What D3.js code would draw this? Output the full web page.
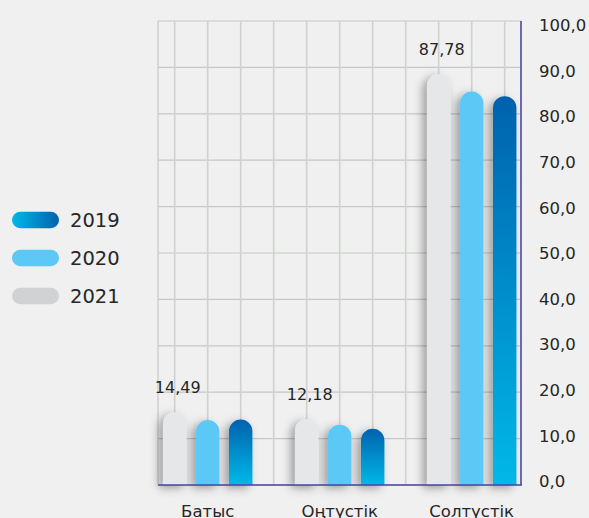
<!DOCTYPE html>
<html>
<head>
<meta charset="utf-8">
<script src="https://cdn.jsdelivr.net/npm/d3@7"></script>
<style>
  html, body { margin: 0; padding: 0; background: #eff0ef; }
  svg { display: block; }
</style>
</head>
<body>
<div class="chart"></div>
<script>
const categories = ['Батыс', 'Оңтүстік', 'Солтүстік'];
const years = ['2021', '2020', '2019'];
const values2021 = [15.7, 14.2, 88.5];
const values2020 = [14.0, 13.0, 84.8];
const values2019 = [14.1, 12.1, 83.8];
const labels2021 = ['14,49', '12,18', '87,78'];
const tickValues = [0, 10, 20, 30, 40, 50, 60, 70, 80, 90, 100];
const legendYears = ['2019', '2020', '2021'];

const width = 589, height = 518;
const plotLeft = 158, plotRight = 521, plotTop = 21, plotBottom = 485;
const grey = '#e6e7e9', light = '#5bc8f5', purple = '#4a46a6';

const series = { '2021': values2021, '2020': values2020, '2019': values2019 };

const svg = d3.select('.chart')
    .append('svg')
    .attr('width', width)
    .attr('height', height);

const defs = svg.append('defs');
const gradBar = defs.append('linearGradient')
    .attr('id', 'gradBar').attr('x1', 0).attr('y1', 0).attr('x2', 0).attr('y2', 1);
gradBar.append('stop').attr('offset', '0%').attr('stop-color', '#0061ad');
gradBar.append('stop').attr('offset', '100%').attr('stop-color', '#00b9e9');
const gradLeg = defs.append('linearGradient')
    .attr('id', 'gradLeg').attr('x1', 0).attr('y1', 0).attr('x2', 1).attr('y2', 0);
gradLeg.append('stop').attr('offset', '0%').attr('stop-color', '#00b9e9');
gradLeg.append('stop').attr('offset', '100%').attr('stop-color', '#0061ad');
const shadow = defs.append('filter').attr('id', 'shadow')
    .attr('x', '-80%').attr('y', '-30%').attr('width', '260%').attr('height', '160%');
shadow.append('feDropShadow')
    .attr('dx', -4).attr('dy', 3).attr('stdDeviation', 5)
    .attr('flood-color', '#000').attr('flood-opacity', 0.36);

const y = d3.scaleLinear().domain([0, 100]).range([plotBottom, plotTop]);
const yLabel = d3.scaleLinear().domain([0, 100]).range([481.5, 25.4]);
const x0 = d3.scaleBand().domain(categories).range([141.7, 537.7]);
const x1 = d3.scaleBand().domain(years).range([-49.5, 49.5])
    .paddingInner(0.29).paddingOuter(0.145);
const bw = x1.bandwidth();
const center = (c, yr) => x0(c) + x0.bandwidth() / 2 + x1(yr) + bw / 2;

// grid
const grid = svg.append('g');
grid.selectAll('line.h')
    .data(tickValues)
    .join('line')
    .attr('x1', plotLeft).attr('x2', plotRight)
    .attr('y1', d => y(d)).attr('y2', d => y(d))
    .attr('stroke', '#c6c7c6').attr('stroke-width', 1.2);
const vStep = x1.step();
const vLines = [plotLeft].concat(d3.range(center(categories[0], years[0]), plotRight - 5, vStep));
grid.selectAll('line.v')
    .data(vLines)
    .join('line')
    .attr('x1', d => d).attr('x2', d => d)
    .attr('y1', plotTop).attr('y2', plotBottom)
    .attr('stroke', '#d0d1d0').attr('stroke-width', 1.6);

// bars
const barPath = (cx, top) => {
    const r = bw / 2, l = cx - r, rr = cx + r;
    return `M${l},${plotBottom} L${l},${top + r} A${r},${r} 0 0 1 ${rr},${top + r} L${rr},${plotBottom} Z`;
};
const fills = { '2021': grey, '2020': light, '2019': 'url(#gradBar)' };
const bars = svg.append('g').attr('filter', 'url(#shadow)');
categories.forEach((c, i) => {
    years.forEach(yr => {
        bars.append('path')
            .attr('d', barPath(center(c, yr), y(series[yr][i])))
            .attr('fill', fills[yr]);
    });
});

// value labels
svg.append('g').selectAll('text')
    .data(categories)
    .join('text')
    .attr('x', (d) => center(d, '2021') + 3)
    .attr('y', (d, i) => y(values2021[i]) - 19)
    .attr('text-anchor', 'middle')
    .attr('font-family', 'DejaVu Sans')
    .attr('font-size', '16px')
    .attr('fill', '#262626')
    .text((d, i) => labels2021[i]);

// axis lines
svg.append('line')
    .attr('x1', plotLeft).attr('x2', plotRight + 1)
    .attr('y1', plotBottom).attr('y2', plotBottom)
    .attr('stroke', purple).attr('stroke-width', 1.6);
svg.append('line')
    .attr('x1', plotRight).attr('x2', plotRight)
    .attr('y1', plotTop).attr('y2', plotBottom)
    .attr('stroke', purple).attr('stroke-width', 1.6);

// y tick labels
const yAxis = svg.append('g')
    .attr('transform', `translate(${plotRight}, 0)`)
    .call(d3.axisRight(yLabel).tickValues(tickValues).tickSize(0).tickPadding(18)
        .tickFormat(d => d3.format('.1f')(d).replace('.', ',')));
yAxis.select('.domain').remove();
yAxis.selectAll('text')
    .attr('font-family', 'DejaVu Sans')
    .attr('font-size', '16.5px')
    .attr('fill', '#262626');

// category labels
svg.append('g').selectAll('text')
    .data(categories)
    .join('text')
    .attr('x', d => x0(d) + x0.bandwidth() / 2)
    .attr('y', 517)
    .attr('text-anchor', 'middle')
    .attr('font-family', 'DejaVu Sans')
    .attr('font-size', '16.5px')
    .attr('fill', '#262626')
    .text(d => d);

// legend
const legFill = { '2019': 'url(#gradLeg)', '2020': light, '2021': '#d1d2d4' };
const legend = svg.append('g').selectAll('g')
    .data(legendYears)
    .join('g')
    .attr('transform', (d, i) => `translate(12, ${220 + i * 38})`);
legend.append('rect')
    .attr('x', 0).attr('y', -8.3).attr('width', 47).attr('height', 16.6)
    .attr('rx', 8.3)
    .attr('fill', d => legFill[d]);
legend.append('text')
    .attr('x', 58).attr('y', 7)
    .attr('font-family', 'DejaVu Sans')
    .attr('font-size', '19.5px')
    .attr('fill', '#262626')
    .text(d => d);
</script>
</body>
</html>
